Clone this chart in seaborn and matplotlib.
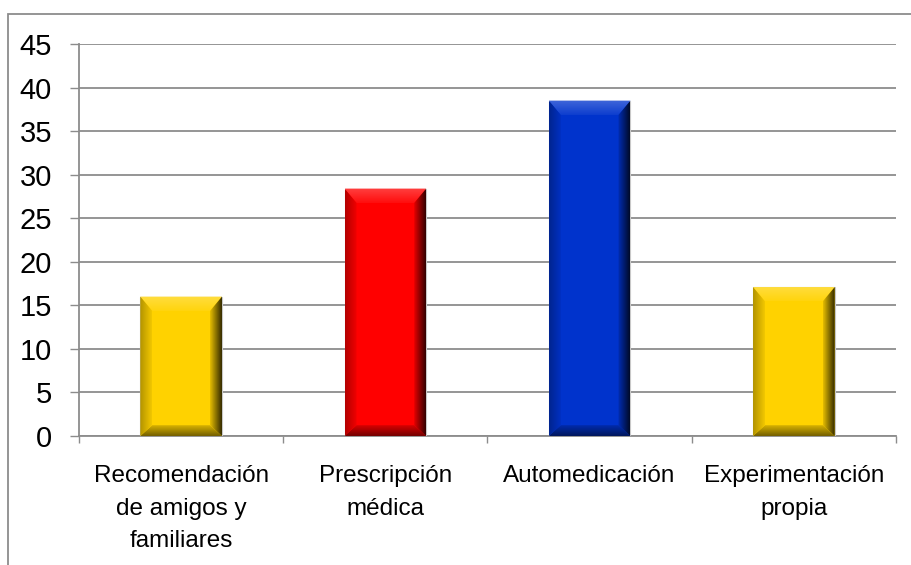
import numpy as np
import pandas as pd
import matplotlib
matplotlib.use("Agg")
import matplotlib.pyplot as plt
from matplotlib.patches import Polygon, Rectangle
from matplotlib.colors import to_rgb
import seaborn as sns

# Data
categories = ["Recomendación\nde amigos y\nfamiliares", "Prescripción\nmédica",
              "Automedicación", "Experimentación\npropia"]
values = [16.0, 28.4, 38.5, 17.1]
bar_colors = ["#FFD200", "#FF0000", "#0033CC", "#FFD200"]
y_ticks = [0, 5, 10, 15, 20, 25, 30, 35, 40, 45]

sns.set_theme(style="white")
plt.rcParams["font.family"] = ["Liberation Sans", "DejaVu Sans"]

W, H, DPI = 912, 565, 100
fig = plt.figure(figsize=(W / DPI, H / DPI), dpi=DPI)
L, R, T, B = 79, 896, 44, 436
ax = fig.add_axes([L / W, 1 - B / H, (R - L) / W, (B - T) / H])

df = pd.DataFrame({"cat": categories, "val": values})
sns.barplot(data=df, x="cat", y="val", hue="cat", palette=bar_colors,
            legend=False, width=0.4, saturation=1, ax=ax, zorder=3,
            edgecolor="#c8c8c8", linewidth=0.8)

ax.set_xlim(-0.5, len(categories) - 0.5)
ax.set_ylim(0, 45)
ax.set_yticks(y_ticks)
ax.set_xlabel("")
ax.set_ylabel("")

grid_c = "#8c8c8c"
ax.yaxis.grid(True, color=grid_c, linewidth=1.3, zorder=0)
ax.set_axisbelow(True)
for s in ["top", "right"]:
    ax.spines[s].set_visible(False)
for s in ["left", "bottom"]:
    ax.spines[s].set_color(grid_c)
    ax.spines[s].set_linewidth(1.3)

ax.tick_params(axis="y", which="major", length=6.5, width=1.0, color=grid_c,
               pad=13, labelsize=21, labelcolor="black", left=True)
ax.tick_params(axis="x", which="major", length=0, pad=21, labelsize=17.5,
               labelcolor="black")
ax.set_xticks(np.arange(-0.5, len(categories)), minor=True)
ax.tick_params(axis="x", which="minor", length=5, width=1.0, color=grid_c,
               bottom=True)
for lbl in ax.get_xticklabels():
    lbl.set_multialignment("center")
    lbl.set_linespacing(1.62)

# Bevelled faces on each bar
px_x = (R - L) / (len(categories))      # pixels per x unit
px_y = (B - T) / 45.0                   # pixels per y unit
bev = 12.0
bx, by = bev / px_x, bev / px_y


def shade(rgb, f):
    rgb = np.array(rgb)
    if f >= 0:
        return tuple(rgb + (1 - rgb) * f)
    return tuple(rgb * (1 + f))


def grad_face(poly_pts, c0, c1, horizontal, extent):
    n = 64
    t = np.linspace(0, 1, n)
    cols = np.array([np.array(c0) * (1 - v) + np.array(c1) * v for v in t])
    img = cols[np.newaxis, :, :] if horizontal else cols[:, np.newaxis, :]
    poly = Polygon(poly_pts, closed=True, facecolor="none", edgecolor="none",
                   transform=ax.transData)
    ax.add_patch(poly)
    im = ax.imshow(img, extent=extent, origin="lower", aspect="auto",
                   interpolation="bilinear", zorder=4)
    im.set_clip_path(poly)


for p in ax.patches[:len(values)]:
    x0, w, h = p.get_x(), p.get_width(), p.get_height()
    x1 = x0 + w
    base = to_rgb(p.get_facecolor())
    # top face: lighter band, brightest just inside the edge
    top = [(x0, h), (x1, h), (x1 - bx, h - by * 1.2), (x0 + bx, h - by * 1.2)]
    grad_face(top, shade(base, 0.05), shade(base, 0.25), False,
              (x0, x1, h - by * 1.2, h))
    # bottom face: darker
    bot = [(x0, 0), (x1, 0), (x1 - bx, by * 0.9), (x0 + bx, by * 0.9)]
    grad_face(bot, shade(base, -0.55), shade(base, -0.15), False,
              (x0, x1, 0, by * 0.9))
    # left face: slightly darker
    lef = [(x0, 0), (x0, h), (x0 + bx, h - by * 1.2), (x0 + bx, by * 0.9)]
    grad_face(lef, shade(base, -0.30), shade(base, -0.05), True,
              (x0, x0 + bx, 0, h))
    # right face: dark shadow
    rig = [(x1, 0), (x1, h), (x1 - bx, h - by * 1.2), (x1 - bx, by * 0.9)]
    grad_face(rig, shade(base, -0.10), shade(base, -0.80), True,
              (x1 - bx, x1, 0, h))

ax.set_xlim(-0.5, len(categories) - 0.5)
ax.set_ylim(0, 45)

# Chart area frame
fig.patches.append(Rectangle((8 / W, -0.1), 1.2, 1 - 14 / H + 0.1,
                             transform=fig.transFigure, fill=False,
                             edgecolor="#8c8c8c", linewidth=1.3, zorder=0))

fig.savefig("out.png", dpi=DPI)
